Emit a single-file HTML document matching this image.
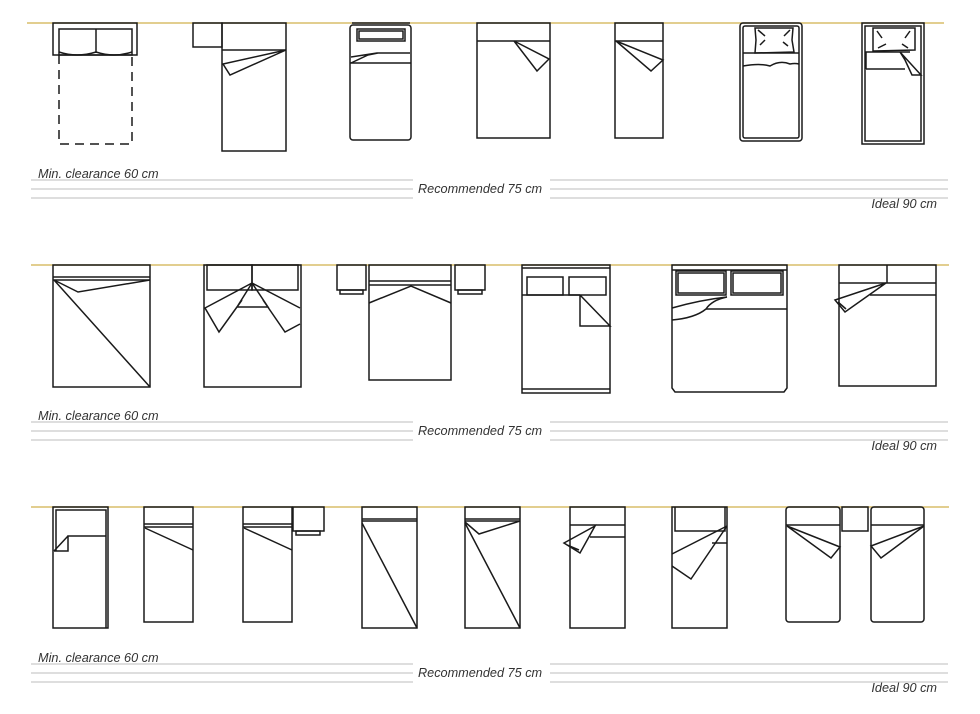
<!DOCTYPE html>
<html><head><meta charset="utf-8"><style>
html,body{margin:0;padding:0;background:#fff;}
svg{display:block;}
text{font-family:"Liberation Sans",sans-serif;font-style:italic;font-size:12.7px;fill:#333;}
.b{fill:none;stroke:#1a1a1a;stroke-width:1.5;stroke-linejoin:miter;}
.g{stroke:#c9c9c9;stroke-width:1.2;}
.y{stroke:#d8bd6a;stroke-width:1.5;}
</style></head><body>
<svg width="980" height="714" viewBox="0 0 980 714" xmlns="http://www.w3.org/2000/svg">
<defs>
<g id="lab">
<text x="38" y="178">Min. clearance 60 cm</text>
<line class="g" x1="31" y1="180" x2="413" y2="180"/>
<line class="g" x1="31" y1="189" x2="413" y2="189"/>
<line class="g" x1="31" y1="198" x2="413" y2="198"/>
<line class="g" x1="550" y1="180" x2="948" y2="180"/>
<line class="g" x1="550" y1="189" x2="948" y2="189"/>
<line class="g" x1="550" y1="198" x2="948" y2="198"/>
<text x="418" y="193">Recommended 75 cm</text>
<text x="937" y="208" text-anchor="end">Ideal 90 cm</text>
</g>
</defs>
<use href="#lab"/>
<use href="#lab" y="242"/>
<use href="#lab" y="484"/>

<line class="y" x1="27" y1="23" x2="944" y2="23"/>
<line class="y" x1="31" y1="265" x2="949" y2="265"/>
<line class="y" x1="31" y1="507" x2="949" y2="507"/>

<!-- ROW 1 -->
<g class="b">
<rect x="53" y="23" width="84" height="32"/>
<rect x="59" y="29" width="73" height="26"/>
<line x1="96" y1="29" x2="96" y2="53"/>
<path d="M59 52 Q77 58 96 52 Q114 58 132 52"/>
<path d="M59 55 V144 H132 V55" stroke-dasharray="9,6"/>

<rect x="193" y="23" width="29" height="24"/>
<rect x="222" y="23" width="64" height="128"/>
<line x1="222" y1="50" x2="286" y2="50"/>
<path d="M286 50 L223 64 L230 75 Z"/>

<rect x="350" y="25" width="61" height="115" rx="3"/>
<line x1="352" y1="23" x2="410" y2="23"/>
<rect x="357" y="29" width="48" height="12"/>
<rect x="359" y="31" width="44" height="8"/>
<line x1="350" y1="63" x2="411" y2="63"/>
<path d="M351 57 L377 53 L410 53 M351 63 L368 55 L378 53"/>

<rect x="477" y="23" width="73" height="115"/>
<line x1="477" y1="41" x2="550" y2="41"/>
<path d="M514 41 L549 59 L537 71 Z"/>

<rect x="615" y="23" width="48" height="115"/>
<line x1="615" y1="41" x2="663" y2="41"/>
<path d="M616 41 L663 60 L651 71 Z"/>

<rect x="740" y="23" width="62" height="118" rx="3"/>
<rect x="743" y="26" width="56" height="112" rx="2"/>
<path d="M755 28 L793 28 L792 40 L794 52 L755 53 L756 40 Z"/>
<path d="M758 30 L765 36 M790 30 L784 36 M760 45 L765 40 M788 46 L783 42"/>
<line x1="743" y1="53" x2="799" y2="53"/>
<path d="M743 66 Q760 63 770 66 Q780 60 790 64 Q795 63 799 64"/>

<rect x="862" y="23" width="62" height="121"/>
<rect x="865" y="26" width="56" height="115"/>
<path d="M873 28 L915 28 L915 50 L873 51 Z"/>
<path d="M877 31 L882 38 M910 31 L905 38 M878 48 L886 44 M908 48 L902 44"/>
<path d="M866 69 V52 H910 M866 69 H905"/>
<path d="M900 52 L921 75 L912 75 L905 60 Z"/>
</g>

<!-- ROW 2 -->
<g class="b">
<rect x="53" y="265" width="97" height="122"/>
<line x1="53" y1="277" x2="150" y2="277"/>
<line x1="53" y1="280" x2="150" y2="280"/>
<path d="M54 280 L78 292 L150 280 M54 280 L150 387"/>

<rect x="204" y="265" width="97" height="122"/>
<rect x="207" y="265" width="45" height="25"/>
<rect x="252" y="265" width="46" height="25"/>
<path d="M252 283 L205 308 L219 332 L242 300 M252 283 L237 307 L268 307 L252 283 M252 283 L300 308 M263 300 L285 332 L300 324"/>

<rect x="337" y="265" width="29" height="25"/>
<rect x="340" y="290" width="23" height="4"/>
<rect x="455" y="265" width="30" height="25"/>
<rect x="458" y="290" width="24" height="4"/>
<rect x="369" y="265" width="82" height="115"/>
<line x1="369" y1="281" x2="451" y2="281"/>
<line x1="369" y1="285" x2="451" y2="285"/>
<path d="M369 303 L411 286 L451 303"/>

<rect x="522" y="265" width="88" height="128"/>
<line x1="522" y1="268" x2="610" y2="268"/>
<line x1="522" y1="389" x2="610" y2="389"/>
<rect x="527" y="277" width="36" height="18"/>
<rect x="569" y="277" width="37" height="18"/>
<line x1="522" y1="295" x2="580" y2="295"/>
<path d="M580 295 V326 H610 L580 295"/>

<path d="M672 265 H787 V388 L784 392 H675 L672 388 Z"/>
<line x1="672" y1="270" x2="787" y2="270"/>
<rect x="676" y="271" width="50" height="24"/>
<rect x="678" y="273" width="46" height="20"/>
<rect x="731" y="271" width="52" height="24"/>
<rect x="733" y="273" width="48" height="20"/>
<line x1="706" y1="309" x2="787" y2="309"/>
<path d="M672 308 Q700 300 727 297 M672 320 Q695 318 706 309 Q712 300 727 297"/>

<rect x="839" y="265" width="97" height="121"/>
<line x1="839" y1="283" x2="936" y2="283"/>
<line x1="887" y1="265" x2="887" y2="283"/>
<line x1="870" y1="295" x2="936" y2="295"/>
<path d="M886 283 L835 300 L845 312 Z M838 302 L846 309"/>
</g>

<!-- ROW 3 -->
<g class="b">
<rect x="53" y="507" width="55" height="121"/>
<path d="M56 551 V510 H106 V628"/>
<path d="M54 551 H68 V536 H106 M54 551 L68 536"/>

<rect x="144" y="507" width="49" height="115"/>
<line x1="144" y1="524" x2="193" y2="524"/>
<line x1="144" y1="527" x2="193" y2="527"/>
<line x1="145" y1="528" x2="193" y2="550"/>

<rect x="243" y="507" width="49" height="115"/>
<line x1="243" y1="524" x2="292" y2="524"/>
<line x1="243" y1="527" x2="292" y2="527"/>
<line x1="244" y1="528" x2="292" y2="550"/>
<rect x="293" y="507" width="31" height="24"/>
<rect x="296" y="531" width="24" height="4"/>

<rect x="362" y="507" width="55" height="121"/>
<line x1="362" y1="519" x2="417" y2="519"/>
<line x1="362" y1="521" x2="417" y2="521"/>
<line x1="362" y1="523" x2="417" y2="628"/>

<rect x="465" y="507" width="55" height="121"/>
<line x1="465" y1="519" x2="520" y2="519"/>
<line x1="465" y1="521" x2="520" y2="521"/>
<path d="M465 522 L479 534 L520 521 M465 523 L520 628"/>

<rect x="570" y="507" width="55" height="121"/>
<line x1="570" y1="525" x2="625" y2="525"/>
<line x1="590" y1="537" x2="625" y2="537"/>
<path d="M595 526 L564 543 L580 553 Z M567 545 L579 550"/>

<rect x="672" y="507" width="55" height="121"/>
<path d="M675 507 V531 H725 V507 M712 543 H727"/>
<path d="M727 526 L672 554 M727 526 L691 579 L672 566"/>

<rect x="786" y="507" width="54" height="115" rx="3"/>
<line x1="786" y1="525" x2="840" y2="525"/>
<path d="M787 526 L840 547 L831 558 Z"/>
<rect x="842" y="507" width="26" height="24"/>
<rect x="871" y="507" width="53" height="115" rx="3"/>
<line x1="871" y1="525" x2="924" y2="525"/>
<path d="M924 526 L871 546 L881 558 Z"/>
</g>
</svg>
</body></html>
